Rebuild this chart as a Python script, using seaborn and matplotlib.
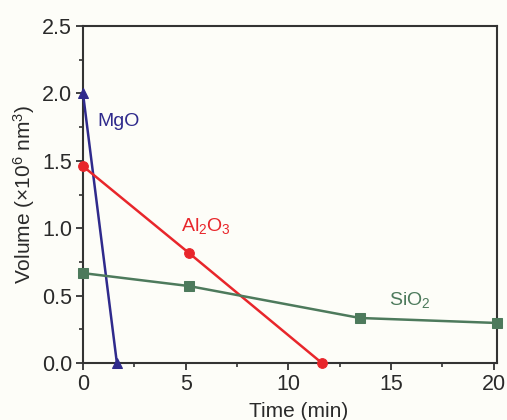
import matplotlib
matplotlib.use("Agg")
import matplotlib.pyplot as plt
import seaborn as sns
import pandas as pd
from matplotlib.ticker import MultipleLocator

mgo_time = [0, 1.65]
mgo_vol = [2.0, 0.0]
al_time = [0, 5.16, 11.63]
al_vol = [1.46, 0.816, 0.0]
si_time = [0, 5.16, 13.48, 20.15]
si_vol = [0.667, 0.571, 0.334, 0.297]
series = ["MgO", "Al2O3", "SiO2"]
colors = {"MgO": "#2f2a8c", "Al2O3": "#e8262b", "SiO2": "#4d7a5c"}
markers = {"MgO": "^", "Al2O3": "o", "SiO2": "s"}

df = pd.concat([
    pd.DataFrame({"t": mgo_time, "v": mgo_vol, "s": "MgO"}),
    pd.DataFrame({"t": al_time, "v": al_vol, "s": "Al2O3"}),
    pd.DataFrame({"t": si_time, "v": si_vol, "s": "SiO2"}),
])

sns.set_style("ticks")
plt.rcParams['font.family'] = ['Liberation Sans', 'DejaVu Sans']
plt.rcParams['mathtext.fontset'] = 'custom'
plt.rcParams['mathtext.rm'] = 'Liberation Sans'
plt.rcParams['mathtext.it'] = 'Liberation Sans'

fig = plt.figure(figsize=(5.07, 4.2), dpi=100, facecolor="#fdfdf8")
ax = fig.add_axes([0.1637, 0.1357, 0.8163, 0.8023])
ax.set_facecolor("#fdfdf8")

for s in series:
    sub = df[df.s == s]
    sns.lineplot(data=sub, x="t", y="v", color=colors[s], marker=markers[s],
                 markersize=7, markeredgecolor=colors[s], linewidth=1.8,
                 ax=ax, legend=False, sort=False, clip_on=False, zorder=3)

ax.set_xlim(0, 20.15)
ax.set_ylim(0, 2.5)
ax.xaxis.set_major_locator(MultipleLocator(5))
ax.xaxis.set_minor_locator(MultipleLocator(2.5))
ax.yaxis.set_major_locator(MultipleLocator(0.5))
ax.yaxis.set_minor_locator(MultipleLocator(0.25))
ax.yaxis.set_major_formatter(matplotlib.ticker.FormatStrFormatter('%.1f'))
ax.tick_params(which='major', direction='out', length=5, width=1.3, labelsize=15.5,
               colors='#333333', labelcolor='#2a2a2a', pad=3)
ax.tick_params(which='minor', direction='out', length=3, width=1.2, colors='#333333')
for sp in ax.spines.values():
    sp.set_color('#333333')
    sp.set_linewidth(1.5)

ax.set_xlabel("Time (min)", fontsize=15, color='#2a2a2a', labelpad=3)
ax.xaxis.set_label_coords(0.52, -0.115)
ax.set_ylabel("Volume (×10$^{6}$ nm$^{3}$)", fontsize=15, color='#2a2a2a', labelpad=3)

ax.text(0.68, 1.79, "MgO", color=colors["MgO"], fontsize=14, va='center', ha='left')
ax.text(6.0, 1.02, "Al$_2$O$_3$", color=colors["Al2O3"], fontsize=14, va='center', ha='center')
ax.text(15.9, 0.467, "SiO$_2$", color=colors["SiO2"], fontsize=14, va='center', ha='center')

fig.savefig("out.png", dpi=100, facecolor=fig.get_facecolor())
